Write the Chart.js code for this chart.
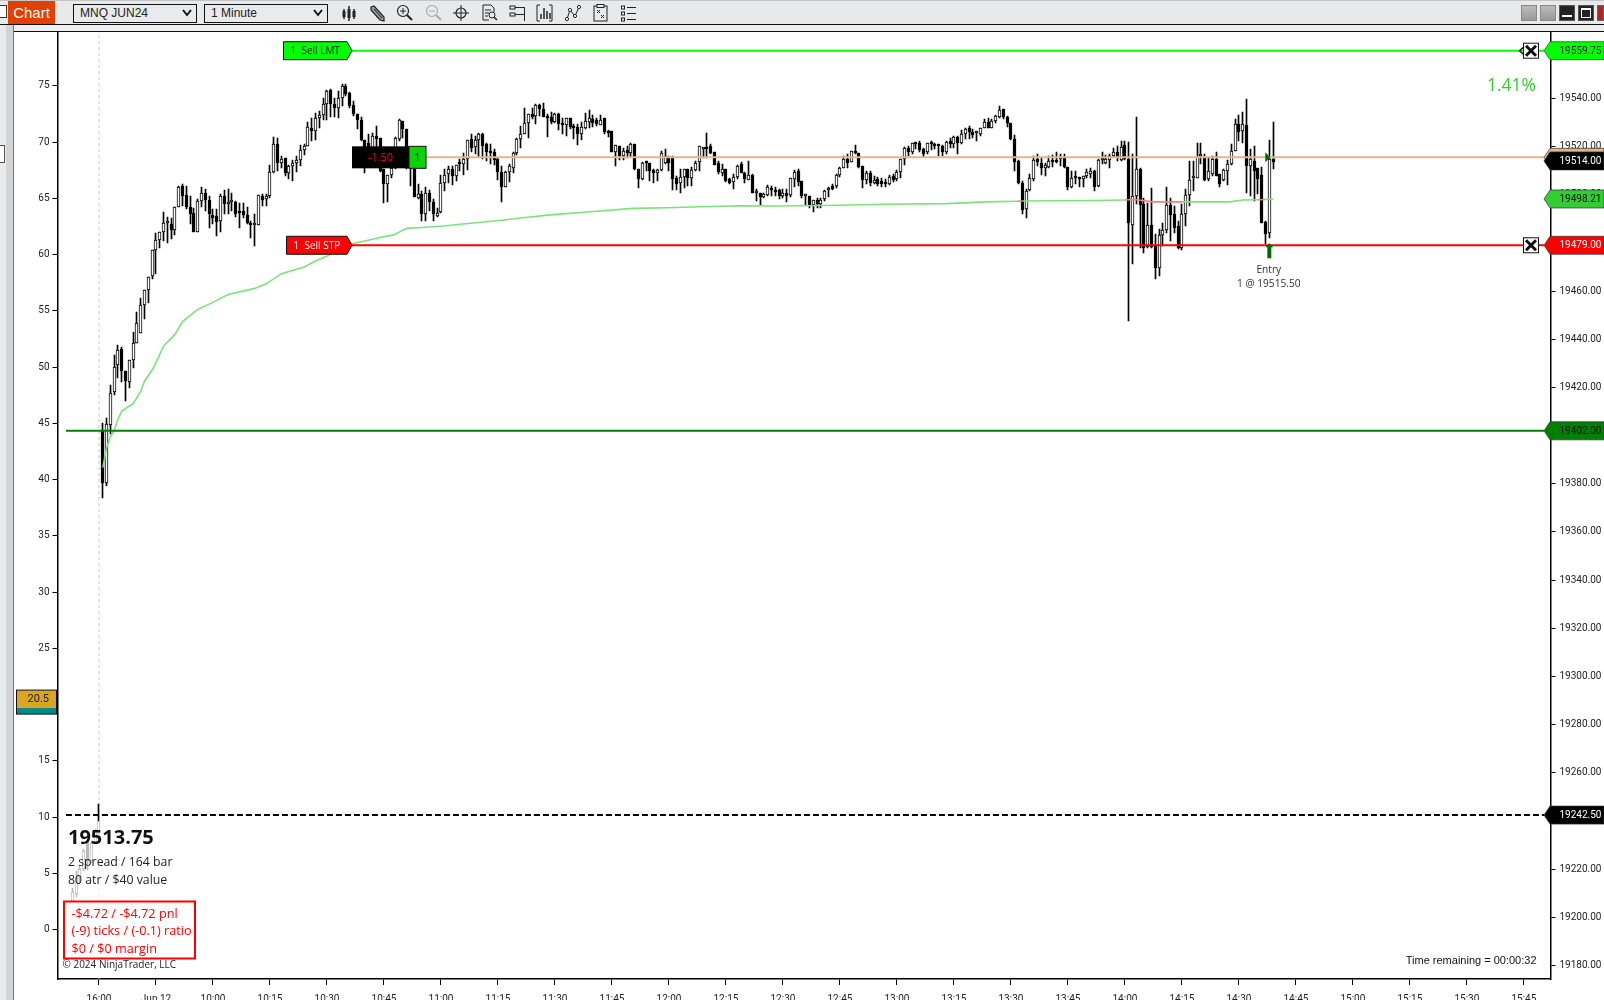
<!DOCTYPE html>
<html>
<head>
<meta charset="utf-8">
<title>MNQ JUN24</title>
<script src="https://cdn.jsdelivr.net/npm/chart.js@4/dist/chart.umd.min.js"></script>
<style>
  html, body { margin: 0; padding: 0; width: 1604px; height: 1000px; overflow: hidden; background: #fff; }
  canvas { position: absolute; left: 0; top: 0; }
  .box { position: absolute; box-sizing: border-box; }
  .drop { position: absolute; top: 4px; height: 19px; box-sizing: border-box; border: 1.5px solid #111; background: #e9eaeb;
          font: 12px "Liberation Sans", sans-serif; line-height: 16px; padding-left: 6px; color: #222; }
  .drop svg { position: absolute; right: 4px; top: 4px; }
  .ico { position: absolute; top: 4px; }
</style>
</head>
<body>
<canvas id="chart" width="1604" height="1000"></canvas>

<!-- venster rand en toolbar -->
<div class="box" style="left:0;top:0;width:1604px;height:25px;background:#e8e9ea;border-top:1px solid #c4c4c4;border-bottom:1px solid #111"></div>
<div class="box" style="left:0;top:25px;width:1604px;height:7px;background:#f0f0f0;border-bottom:1px solid #111"></div>
<div class="box" style="left:0;top:25px;width:6px;height:975px;background:#e9eaeb"></div>
<div class="box" style="left:6px;top:25px;width:8px;height:975px;background:#d3d3d3;border-right:1px solid #777"></div>
<div class="box" style="left:0;top:5px;width:7px;height:13px;background:#fff;border:1px solid #333;border-left:0"></div>
<div class="box" style="left:0;top:145px;width:5px;height:18px;background:#fff;border:1px solid #555;border-left:0"></div>
<div class="box" style="left:8px;top:1px;width:47px;height:23px;background:#e04000;color:#fff;font:15px 'Liberation Sans',sans-serif;line-height:23px;text-align:center">Chart</div>
<div class="drop" style="left:73px;width:124px">MNQ JUN24<svg width="10" height="8"><path d="M1 1 L5 6 L9 1" fill="none" stroke="#111" stroke-width="2"/></svg></div>
<div class="drop" style="left:204px;width:124px">1 Minute<svg width="10" height="8"><path d="M1 1 L5 6 L9 1" fill="none" stroke="#111" stroke-width="2"/></svg></div>

<svg class="ico" style="left:341px" width="16" height="18"><path d="M3 5V15M8 2V17M13 5V15" stroke="#222" stroke-width="1.5"/><rect x="1.5" y="7" width="3" height="6" fill="#222"/><rect x="6.5" y="5" width="3" height="9" fill="#222"/><rect x="11.5" y="7" width="3" height="6" fill="#222"/></svg>
<svg class="ico" style="left:369px" width="17" height="18"><path d="M2 3L5 2L15 13L15 17L11 16L2 6Z" fill="#999" stroke="#222" stroke-width="1.2"/><path d="M5 5L13 14" stroke="#222"/></svg>
<svg class="ico" style="left:396px" width="17" height="18"><circle cx="7" cy="7" r="5.5" fill="none" stroke="#222" stroke-width="1.2"/><path d="M4 7H10M7 4V10" stroke="#222"/><path d="M11 11L16 16" stroke="#222" stroke-width="2"/></svg>
<svg class="ico" style="left:425px" width="17" height="18"><circle cx="7" cy="7" r="5.5" fill="none" stroke="#aaa" stroke-width="1.2"/><path d="M4 7H10" stroke="#aaa"/><path d="M11 11L16 16" stroke="#aaa" stroke-width="2"/></svg>
<svg class="ico" style="left:453px" width="17" height="18"><circle cx="8" cy="9" r="5" fill="none" stroke="#222" stroke-width="1.2"/><path d="M8 1V17M0 9H16" stroke="#222"/></svg>
<svg class="ico" style="left:481px" width="17" height="18"><path d="M2 1H10L13 4V8M2 1V16H8" fill="none" stroke="#222"/><path d="M4 6H10M4 9H8M4 12H7" stroke="#222"/><circle cx="11" cy="11" r="3" fill="none" stroke="#222"/><path d="M13 13L16 16" stroke="#222" stroke-width="1.5"/></svg>
<svg class="ico" style="left:509px" width="17" height="18"><rect x="1" y="2" width="5" height="3" fill="none" stroke="#222"/><rect x="1" y="9" width="5" height="3" fill="none" stroke="#222"/><path d="M6 3.5H16M6 10.5H16M15.5 3V17" stroke="#222"/></svg>
<svg class="ico" style="left:536px" width="17" height="18"><path d="M4 1H1V17H4M13 1H16V17H13" fill="none" stroke="#222"/><path d="M5 10V15M8 4V15M11 7V15M14 9V15" stroke="#222" stroke-width="1.5"/></svg>
<svg class="ico" style="left:564px" width="17" height="18"><path d="M3 15L6 6L11 12L15 3" fill="none" stroke="#222"/><circle cx="3" cy="15" r="1.6" fill="#fff" stroke="#222"/><circle cx="6" cy="6" r="1.6" fill="#fff" stroke="#222"/><circle cx="11" cy="12" r="1.6" fill="#fff" stroke="#222"/><circle cx="15" cy="3" r="1.6" fill="#fff" stroke="#222"/></svg>
<svg class="ico" style="left:592px" width="17" height="18"><rect x="2" y="2" width="13" height="15" fill="none" stroke="#222"/><rect x="5" y="0.5" width="7" height="3" fill="#e8e9ea" stroke="#222"/><path d="M5 6L8 9M8 6L5 9M9 11L12 14M12 11L9 14" stroke="#222"/></svg>
<svg class="ico" style="left:620px" width="17" height="18"><rect x="1.5" y="2" width="3" height="3" fill="none" stroke="#222"/><rect x="1.5" y="8" width="3" height="3" fill="none" stroke="#222"/><rect x="1.5" y="14" width="3" height="3" fill="none" stroke="#222"/><path d="M7 3.5H16M7 9.5H16M7 15.5H16" stroke="#222" stroke-width="1.2"/></svg>

<div class="box" style="left:1521px;top:5px;width:16px;height:16px;background:linear-gradient(#bbb,#999);border:1px solid #888"></div>
<div class="box" style="left:1540px;top:5px;width:16px;height:16px;background:linear-gradient(#bbb,#999);border:1px solid #888"></div>
<div class="box" style="left:1559px;top:5px;width:16px;height:16px;background:#222;border:1px solid #555"><div class="box" style="left:2px;top:9px;width:10px;height:2px;background:#fff"></div></div>
<div class="box" style="left:1578px;top:5px;width:16px;height:16px;background:#222;border:1px solid #555"><div class="box" style="left:2px;top:2px;width:10px;height:10px;border:1px solid #fff;border-top-width:2px"></div></div>
<div class="box" style="left:1597px;top:5px;width:7px;height:16px;background:#a52a2a;border:1px solid #666"></div>

<script>
// Koersdata per minuut, eerste balk is 8 minuten voor de 16:00 balk
var firstBar = -8;

var opens = [
  19197.9, 19205.8, 19209.9, 19216.8, 19220, 19231.5, 19223.5, 19231, 19235.9,
  19402.3, 19380.5, 19404.3, 19418.2, 19429.2, 19435.9, 19426.8, 19422.4, 19431.5, 19438.3,
  19442.6, 19454.2, 19460.3, 19466.1, 19476.9, 19481.1, 19484.5, 19488.1, 19487.7, 19485.2,
  19494.8, 19503.5, 19499.8, 19495, 19492.3, 19484.7, 19497.4, 19500.9, 19497.7, 19491.5,
  19491.2, 19489.1, 19499.5, 19496, 19497.1, 19497, 19492.6, 19493.1, 19491.5, 19488.4,
  19487.4, 19487.4, 19499.4, 19498.1, 19499.4, 19509.4, 19521.2, 19513, 19515.1, 19509.2,
  19511.7, 19513, 19514.3, 19518.4, 19520.4, 19527.6, 19526.5, 19532, 19533, 19537.8,
  19543.3, 19537.8, 19535.9, 19540.3, 19545.1, 19542.4, 19537.2, 19533.4, 19530.9, 19522.6,
  19521.6, 19518.8, 19524.2, 19523.4, 19510.6, 19504.3, 19508, 19511.2, 19522.9, 19530.6,
  19527.1, 19512, 19510.5, 19498.7, 19500.4, 19492.1, 19500.8, 19497.1, 19491.1, 19492.9,
  19504.7, 19508.7, 19510.6, 19507.9, 19513.3, 19512.9, 19514.6, 19522.9, 19519.9, 19522.5,
  19525, 19520.9, 19517.8, 19517.6, 19514.6, 19509.4, 19503.3, 19509.4, 19511.2, 19517.4,
  19523.2, 19525.3, 19529.6, 19533.6, 19532.6, 19537.2, 19535.4, 19532.6, 19532.4, 19530.1,
  19533.6, 19529.4, 19528.8, 19531.7, 19528.5, 19528.1, 19525, 19527.5, 19530.3, 19531.2,
  19530.8, 19528.8, 19531.7, 19526.1, 19526.4, 19517.8, 19520.2, 19516, 19518.4, 19517.4,
  19520.9, 19510.5, 19506.6, 19513.5, 19513, 19510.2, 19508.8, 19510.1, 19513, 19515.3,
  19515.3, 19506.8, 19505, 19507.3, 19510.5, 19507, 19510.1, 19513.5, 19519, 19519.2,
  19520.2, 19517.7, 19513.3, 19509.1, 19510.5, 19506.4, 19505.4, 19507.3, 19512.6, 19509.1,
  19506.1, 19508.1, 19500.8, 19500.5, 19499, 19499.7, 19502.9, 19501.8, 19501.8, 19499.3,
  19500.7, 19499.9, 19506.4, 19509.8, 19505.7, 19499.6, 19499.3, 19495.7, 19497.9, 19496.3,
  19498, 19501.8, 19503.6, 19503.6, 19508, 19510.9, 19514.6, 19513.7, 19517.8, 19517.3,
  19511.9, 19506.2, 19509, 19505, 19506.4, 19505.7, 19504.8, 19504.3, 19507.7, 19506.6,
  19509.5, 19514.6, 19519.2, 19517.8, 19521.7, 19521.6, 19518.8, 19517.8, 19521.6, 19520.9,
  19520.5, 19520, 19517.6, 19522.3, 19520.9, 19523.9, 19521.6, 19525, 19527.5, 19526.1,
  19525.4, 19525.3, 19527.8, 19530, 19527.8, 19530.6, 19532.2, 19535.4, 19532.2, 19529.6,
  19522.9, 19514, 19504.8, 19493.9, 19501.8, 19506.4, 19514.6, 19513.3, 19511.2, 19511.5,
  19514.4, 19514.2, 19514.6, 19515.3, 19511.5, 19503.2, 19507.3, 19506.8, 19506.4, 19507.7,
  19508.7, 19509.8, 19503.6, 19514.2, 19513.3, 19514.2, 19516, 19517.7, 19514.2, 19520.6,
  19514.6, 19487.3, 19499.3, 19510.5, 19496, 19478.3, 19487.3, 19478.7, 19469.4, 19483.3,
  19485.2, 19495.6, 19491.8, 19487, 19478, 19491.8, 19499.7, 19507, 19507, 19516,
  19515.3, 19506.4, 19508.7, 19514.6, 19508.4, 19505.9, 19509.8, 19512.6, 19518.1, 19529.2,
  19526.4, 19528.9, 19511.9, 19514, 19510.9, 19508.1, 19488.6, 19484.2, 19514.9
];

var highs = [
  19206.2, 19212.4, 19219.3, 19221.4, 19228.3, 19232.4, 19231.8, 19236.6, 19247,
  19405.4, 19407.2, 19421, 19433.4, 19437.5, 19436.8, 19426.8, 19431.2, 19442.9, 19451.4,
  19457.2, 19460.3, 19465.8, 19476.9, 19484.2, 19484.5, 19493, 19490.8, 19490.5, 19494.8,
  19503.6, 19504.3, 19503.6, 19499.5, 19494.6, 19498.1, 19503, 19502.3, 19499.5, 19494,
  19494, 19500.2, 19501.8, 19502.3, 19500.9, 19497.4, 19496.7, 19496.7, 19494.9, 19489.1,
  19491.9, 19499.8, 19500.2, 19500.2, 19512.3, 19524, 19523.7, 19516.1, 19515.1, 19512.2,
  19514.4, 19516.1, 19520.5, 19521.2, 19530.2, 19532, 19534, 19534.8, 19540.3, 19543.3,
  19543.7, 19540.3, 19543, 19545.8, 19545.8, 19542.6, 19538.9, 19533.4, 19532.3, 19522.6,
  19525, 19525.8, 19528.5, 19523.7, 19510.6, 19508, 19514, 19524, 19531.3, 19530.6,
  19527.1, 19513, 19510.5, 19504.3, 19501.5, 19503.2, 19501.8, 19498, 19494.6, 19508.1,
  19510.5, 19511.9, 19511.9, 19512.3, 19514.6, 19517.1, 19522.5, 19525, 19524.3, 19525.7,
  19525.7, 19521.6, 19520.9, 19518.8, 19515.3, 19511.9, 19509.8, 19512.9, 19517.7, 19523.6,
  19528.5, 19535.8, 19533.6, 19535.8, 19537.5, 19537.5, 19537.9, 19533.3, 19534.4, 19534,
  19533.7, 19531.7, 19531.9, 19531.9, 19529.2, 19529.2, 19530.3, 19534, 19535, 19533,
  19531.9, 19533, 19531.7, 19526.7, 19526.4, 19520.5, 19520.2, 19519.5, 19520.2, 19521.6,
  19520.9, 19510.5, 19513.7, 19514, 19513.3, 19510.5, 19510.5, 19518.1, 19518.8, 19516,
  19516, 19507.7, 19510.5, 19510.8, 19510.8, 19511.5, 19514, 19520.2, 19519.5, 19525.4,
  19521.1, 19517.7, 19514, 19512.6, 19510.5, 19507, 19508.4, 19512.3, 19513.7, 19509.4,
  19514, 19508.4, 19502.2, 19500.8, 19500.8, 19504, 19503.6, 19503.2, 19502.2, 19502.2,
  19502.2, 19507, 19510.1, 19510.5, 19505.7, 19500.1, 19499.3, 19497.9, 19498.5, 19498.5,
  19501.8, 19503.2, 19504.3, 19508.4, 19511.5, 19516, 19516.7, 19518.1, 19520.6, 19517.3,
  19511.9, 19509.8, 19509.8, 19507.7, 19507.3, 19506.8, 19506.4, 19508.1, 19508.4, 19510.1,
  19514.6, 19519.8, 19520.2, 19521.6, 19522, 19522.3, 19519.5, 19521.6, 19522.3, 19521.6,
  19520.9, 19520.6, 19522.3, 19523.4, 19524.3, 19524.3, 19526.7, 19527.8, 19528.5, 19527.1,
  19526.4, 19527.8, 19531.2, 19531.9, 19531.2, 19533, 19536.8, 19535.7, 19532.6, 19529.9,
  19524.7, 19514.2, 19505.7, 19502.2, 19508.4, 19516, 19517, 19515.3, 19513.3, 19516,
  19516.4, 19517.7, 19516.7, 19516.7, 19511.5, 19509.8, 19509.8, 19507.3, 19507.7, 19510.5,
  19510.9, 19510.1, 19514.6, 19517.7, 19516.4, 19516.7, 19519.2, 19520.2, 19522.3, 19522.3,
  19521.8, 19516.7, 19532.2, 19511.2, 19498.7, 19496.7, 19502.6, 19483.5, 19485.6, 19488.4,
  19503.2, 19498.5, 19495.3, 19489.1, 19496, 19502.2, 19514, 19514, 19521.6, 19521.6,
  19516.7, 19515.3, 19516, 19517.8, 19508.4, 19510.5, 19514.2, 19520.9, 19531.2, 19533,
  19534.4, 19539.5, 19518.8, 19520.2, 19511.2, 19511.5, 19489.1, 19522.5, 19530.1
];

var lows = [
  19196.1, 19205.5, 19208.5, 19214.5, 19219.3, 19219.6, 19222.8, 19230.4, 19234.5,
  19374.2, 19379.1, 19400.5, 19416.9, 19424, 19422.4, 19414.4, 19419.6, 19428.2, 19438.3,
  19442.6, 19448.2, 19455.2, 19465.1, 19467.2, 19478, 19480.8, 19480.1, 19481.5, 19483.3,
  19494.8, 19495.3, 19494.2, 19487.7, 19484.3, 19484.3, 19494.9, 19493.3, 19486.3, 19487.7,
  19482.9, 19484.3, 19491.9, 19491.9, 19493.3, 19490.9, 19486.3, 19490.5, 19487.7, 19482.2,
  19478.7, 19487.4, 19495.3, 19495.3, 19498.8, 19508.8, 19509.9, 19511, 19507.8, 19506.7,
  19505.7, 19509.6, 19511.9, 19516.5, 19520.4, 19522.3, 19522.6, 19527.8, 19530.9, 19530.9,
  19532.3, 19532.3, 19531.7, 19536.8, 19541, 19535.9, 19532.7, 19527.1, 19522.3, 19509.2,
  19515, 19516.8, 19516.8, 19509.6, 19496.4, 19497.1, 19507.1, 19510.6, 19522.3, 19523.7,
  19510.8, 19503.6, 19499, 19498, 19489.1, 19489.1, 19493.2, 19489.1, 19490.7, 19492.5,
  19501.5, 19505, 19504, 19505.7, 19509.8, 19508.1, 19510.1, 19517.8, 19516.7, 19515.8,
  19514.6, 19514, 19512.9, 19512.3, 19505.9, 19497.1, 19503.3, 19505.4, 19509.1, 19516.4,
  19519.5, 19525.3, 19523.6, 19531.2, 19529.2, 19532.6, 19532.2, 19523.9, 19529.2, 19529.9,
  19526.7, 19525, 19524.2, 19527.1, 19522.9, 19520.6, 19522.5, 19527.1, 19527.5, 19528.1,
  19528.5, 19528.8, 19525.3, 19523.9, 19517.8, 19511.9, 19514.2, 19514.2, 19515.3, 19515.6,
  19510.1, 19502.9, 19505.9, 19509.8, 19505.7, 19504.7, 19505.7, 19509.8, 19512.6, 19509.8,
  19501.8, 19501.8, 19500.5, 19502.9, 19503.6, 19503.6, 19509.8, 19509.8, 19515.3, 19515.3,
  19516.7, 19512.3, 19508.7, 19507.7, 19505.4, 19504.3, 19502.5, 19506.4, 19509.1, 19505,
  19505.9, 19500.7, 19497.4, 19495.7, 19498.7, 19499.4, 19499.4, 19499.4, 19498, 19498.7,
  19497.1, 19499, 19503.3, 19503.6, 19498.5, 19495.7, 19494.3, 19492.9, 19494.6, 19494.3,
  19497.4, 19499, 19501.8, 19502.9, 19507.3, 19510.9, 19511.2, 19513.5, 19516.7, 19511.2,
  19502.9, 19504.3, 19503.6, 19504.6, 19503.6, 19503.3, 19503.3, 19504, 19505.4, 19505.7,
  19507, 19512.3, 19516, 19517, 19518.8, 19517.8, 19515.6, 19517, 19518.4, 19518.8,
  19516, 19516, 19516.7, 19519.2, 19519.2, 19517, 19521.1, 19522.9, 19522.9, 19523.6,
  19522.3, 19524.3, 19527.5, 19527.5, 19527.5, 19529.9, 19531.9, 19531.2, 19528.1, 19522.7,
  19509.8, 19504.3, 19491.8, 19490.4, 19501.5, 19505.7, 19511.9, 19508.1, 19507.7, 19511.2,
  19511.5, 19513.3, 19511.9, 19510.9, 19501.8, 19502.9, 19504.6, 19503.2, 19503.2, 19506.8,
  19506.8, 19501.5, 19503.2, 19512.6, 19512.6, 19511.2, 19515.6, 19514, 19514, 19514.2,
  19447.6, 19471.1, 19496, 19478, 19475.9, 19478, 19478, 19464.9, 19466.2, 19478.7,
  19484.2, 19480.8, 19484.2, 19477.3, 19476.9, 19487, 19495.3, 19501.5, 19506.8, 19512.6,
  19505.7, 19505.7, 19507.7, 19507.7, 19503.2, 19505.7, 19504, 19512.3, 19518.1, 19522.3,
  19521.6, 19500.8, 19499.4, 19497.4, 19500.1, 19488.4, 19479.4, 19482.2, 19510.5
];

var closes = [
  19205.5, 19210.7, 19216.3, 19220, 19227.6, 19223.5, 19231, 19235.9, 19240,
  19380.5, 19404.7, 19417.8, 19428.5, 19435.4, 19426.8, 19422.7, 19431.2, 19438.4, 19446.7,
  19454.2, 19460.3, 19465.8, 19476.9, 19481, 19484.5, 19488.1, 19488.1, 19485.4, 19494.8,
  19503.1, 19499.6, 19494.9, 19491.9, 19484.7, 19497.4, 19500.6, 19497.7, 19491.9, 19490.5,
  19488.8, 19499.5, 19496, 19497.1, 19497.1, 19491.9, 19492.3, 19491.5, 19488.4, 19487.3,
  19487.4, 19499.8, 19497.7, 19499.4, 19509.4, 19520.9, 19513.3, 19514.8, 19509.2, 19511.8,
  19513, 19514.4, 19518.4, 19520.1, 19528.1, 19526.5, 19531.7, 19533, 19537.8, 19543,
  19537.8, 19535.9, 19540, 19545.1, 19541.9, 19536.8, 19533.4, 19530.9, 19522.6, 19518.9,
  19518, 19524.2, 19523, 19509.9, 19504.3, 19508, 19511.2, 19523.4, 19530.9, 19527.1,
  19512, 19511, 19499, 19500.1, 19492.1, 19500.8, 19497.1, 19491.8, 19492.5, 19504.7,
  19508, 19510.5, 19507.9, 19512.3, 19512.6, 19514.6, 19522.5, 19519.5, 19522.5, 19525,
  19520.2, 19517.8, 19517.3, 19514.4, 19509.4, 19503.3, 19509.4, 19511.9, 19517.3, 19523.2,
  19525.3, 19529.6, 19533.6, 19532.2, 19537.2, 19535.4, 19532.2, 19531.9, 19530.1, 19533.6,
  19529.2, 19528.8, 19531.7, 19528.1, 19527.8, 19525, 19528.1, 19530.6, 19531.7, 19529.9,
  19529.2, 19530.8, 19526.1, 19525.7, 19517.8, 19520.5, 19516, 19518.1, 19517.4, 19521.1,
  19510.5, 19506.6, 19513.3, 19513, 19509.8, 19508.8, 19510.1, 19517.1, 19516, 19513,
  19506.6, 19504.6, 19507.3, 19510.5, 19507, 19510.2, 19513.3, 19520.2, 19519.2, 19518.8,
  19517.4, 19512.3, 19509.5, 19510.5, 19505.7, 19505, 19507.3, 19511.9, 19509.1, 19506.4,
  19508.1, 19500.8, 19500.8, 19499, 19500.1, 19503.2, 19501.8, 19501.2, 19499.4, 19500.5,
  19499.4, 19506.8, 19509.5, 19505.4, 19499.6, 19499.6, 19495.7, 19497.9, 19496, 19497.9,
  19501.5, 19502.8, 19502.5, 19508, 19510.9, 19514.6, 19513.3, 19518.1, 19517.3, 19511.5,
  19505.9, 19509.1, 19505, 19505.9, 19504.6, 19504.3, 19504.3, 19507.5, 19505.9, 19509.5,
  19514.6, 19519.4, 19517.8, 19521.3, 19521.1, 19518.4, 19517, 19521.6, 19521.1, 19520,
  19520, 19517.7, 19522, 19520.9, 19523.9, 19521.6, 19525.3, 19527.4, 19526.1, 19524.7,
  19525.4, 19527.5, 19530.1, 19527.8, 19530.6, 19532.5, 19535, 19532.2, 19529.9, 19522.9,
  19513.7, 19504.8, 19493.5, 19501.5, 19506.8, 19514.2, 19513.7, 19510.9, 19512.3, 19514,
  19513.7, 19513.7, 19514.6, 19511.5, 19503.2, 19506.8, 19506.8, 19506.4, 19507.6, 19509.4,
  19509.8, 19503.2, 19514.2, 19514.2, 19514.6, 19516, 19517.8, 19515.8, 19519.8, 19514.6,
  19488.4, 19499.3, 19510.5, 19495.7, 19477.7, 19487.3, 19478.3, 19469.7, 19483.1, 19485.2,
  19495.6, 19491.6, 19486, 19477.7, 19492.1, 19499.7, 19505.9, 19507, 19515.6, 19516,
  19505.9, 19509.8, 19514.6, 19507.7, 19504.6, 19510.1, 19512.6, 19518.1, 19529.2, 19526.1,
  19529.2, 19511.9, 19514.6, 19509.8, 19506.4, 19488.4, 19483.8, 19514.6, 19513.75
];

// Gemiddelde lijn, punten
var avgBars = [1, 2, 3, 4, 5, 6, 8, 9, 11, 12, 14, 15, 17, 20, 22, 26, 30, 34, 41, 44, 48, 54, 57, 60, 66, 70, 74, 77.5, 81, 85, 90.6, 95, 105.5, 111.6, 118.7, 131.8, 140.6, 149.4, 158.2, 168.7, 179, 194.6, 206.4, 223, 233.6, 241.5, 243, 261.8, 269.9, 272.6, 277.4, 285, 297.6, 301, 305, 307, 309];
var avgValues = [19386.7, 19395, 19399.4, 19402.2, 19406.8, 19410.2, 19412.3, 19413.3, 19418.5, 19422.7, 19427.2, 19430.3, 19437.2, 19442, 19447.3, 19452.4, 19455.3, 19458.6, 19461.1, 19463, 19467.2, 19470, 19472.5, 19474.5, 19479.4, 19480.8, 19482.2, 19483.3, 19486, 19486.4, 19487, 19487.7, 19489.3, 19490.4, 19491.6, 19493.2, 19494.3, 19494.6, 19495, 19495.4, 19495.3, 19495.6, 19496, 19496.3, 19497, 19497.3, 19497.4, 19497.6, 19497.8, 19498, 19497, 19497, 19497, 19497.8, 19497.9, 19498, 19498.21];
var redRanges = [[241.5, 243], [269.9, 285], [305, 307]];

// Rechter prijsvlaggen en niveaus
var limitPrice = 19559.75;
var stopPrice = 19479;
var entryPrice = 19515.5;
var lastPrice = 19514;
var avgPrice = 19498.21;
var greenLevel = 19402;
var blackLevel = 19242.5;

var timeLabels = ["16:00", "Jun 12", "10:00", "10:15", "10:30", "10:45", "11:00", "11:15", "11:30", "11:45", "12:00", "12:15", "12:30", "12:45", "13:00", "13:15", "13:30", "13:45", "14:00", "14:15", "14:30", "14:45", "15:00", "15:15", "15:30", "15:45"];

function level(price, fromBar, toBar) {
  return [{ x: fromBar, y: price }, { x: toBar, y: price }];
}

function inRed(x) {
  return redRanges.some((r) => x >= r[0] && x < r[1]);
}

var barData = opens.map((o, i) => firstBar + i);
var wickData = barData.map((x, i) => ({ x: x, y: [lows[i], highs[i]] }));
var bodyData = barData.map((x, i) => ({ x: x, y: [Math.min(opens[i], closes[i]), Math.max(opens[i], closes[i])] }));
var avgData = avgBars.map((x, i) => ({ x: x, y: avgValues[i] }));

function lineSet(data, color, order, dash, width) {
  return {
    type: "line",
    data: data,
    borderColor: color,
    borderWidth: width || 2,
    borderDash: dash || [],
    pointRadius: 0,
    order: order,
  };
}

// Balken scherp op hele pixels zetten, anders worden de wicks grijs
var snapBars = {
  id: "snapBars",
  afterDatasetsUpdate(chart) {
    chart.data.datasets.forEach((ds, d) => {
      if (ds.type === "line") return;
      chart.getDatasetMeta(d).data.forEach((el) => {
        el.x = Math.floor(el.x) + 0.5;
        el.y = Math.round(el.y);
        el.base = Math.round(el.base);
        if (ds.label === "body" && Math.abs(el.base - el.y) < 2) el.base = el.y + 2;
      });
    });
  },
};

function priceFlag(ctx, y, text, fill, color) {
  ctx.beginPath();
  ctx.moveTo(1544, y);
  ctx.lineTo(1550, y - 9);
  ctx.lineTo(1604, y - 9);
  ctx.lineTo(1604, y + 9);
  ctx.lineTo(1550, y + 9);
  ctx.closePath();
  ctx.fillStyle = fill;
  ctx.fill();
  ctx.strokeStyle = "#333";
  ctx.lineWidth = 0.7;
  ctx.stroke();
  ctx.fillStyle = color;
  ctx.font = "10px Roboto";
  ctx.textAlign = "left";
  ctx.textBaseline = "middle";
  ctx.fillText(text, 1559.5, y + 0.5);
}

function orderFlag(ctx, left, y, text, fill, color) {
  ctx.beginPath();
  ctx.moveTo(left, y - 9);
  ctx.lineTo(347, y - 9);
  ctx.lineTo(352, y);
  ctx.lineTo(347, y + 9);
  ctx.lineTo(left, y + 9);
  ctx.closePath();
  ctx.fillStyle = fill;
  ctx.fill();
  ctx.strokeStyle = "#111";
  ctx.lineWidth = 1;
  ctx.stroke();
  ctx.fillStyle = color;
  ctx.font = "10px 'Open Sans'";
  ctx.textAlign = "left";
  ctx.textBaseline = "middle";
  ctx.fillText(text, left + 7, y + 0.5);
}

function closeBox(ctx, y) {
  ctx.fillStyle = "#fff";
  ctx.fillRect(1523.5, y - 7.5, 15, 15);
  ctx.strokeStyle = "#111";
  ctx.lineWidth = 1;
  ctx.strokeRect(1523.5, y - 7.5, 15, 15);
  ctx.lineWidth = 3;
  ctx.beginPath();
  ctx.moveTo(1526, y - 5);
  ctx.lineTo(1536, y + 5);
  ctx.moveTo(1536, y - 5);
  ctx.lineTo(1526, y + 5);
  ctx.stroke();
}

function text(ctx, str, x, y, font, color, align) {
  ctx.font = font;
  ctx.fillStyle = color;
  ctx.textAlign = align || "left";
  ctx.textBaseline = "middle";
  ctx.fillText(str, x, y);
}

var overlays = {
  id: "overlays",
  afterDraw(chart) {
    var ctx = chart.ctx;
    var px = chart.scales.x;
    var py = chart.scales.y;
    var pl = chart.scales.left;
    ctx.save();

    // halfdoorzichtig vlak onder de tekst links onder
    ctx.fillStyle = "rgba(255,255,255,0.72)";
    ctx.fillRect(60, 821, 136, 157);

    text(ctx, "19513.75", 68, 838.5, "bold 20px 'Open Sans'", "#111");
    text(ctx, "2 spread / 164 bar", 68, 862.5, "12.3px 'Open Sans'", "#222");
    text(ctx, "80 atr / $40 value", 68, 880, "12.3px 'Open Sans'", "#222");

    ctx.fillStyle = "#fff";
    ctx.fillRect(64, 901.5, 131, 57);
    ctx.strokeStyle = "#ff0000";
    ctx.lineWidth = 2;
    ctx.strokeRect(64, 901.5, 131, 57);
    text(ctx, "-$4.72 / -$4.72 pnl", 71.5, 914, "12.7px 'Open Sans'", "#ff0000");
    text(ctx, "(-9) ticks / (-0.1) ratio", 71.5, 931.5, "12.7px 'Open Sans'", "#ff0000");
    text(ctx, "$0 / $0 margin", 71.5, 949.5, "12.7px 'Open Sans'", "#ff0000");
    text(ctx, "\u00a9 2024 NinjaTrader, LLC", 62.5, 965.5, "10px 'Open Sans'", "#222");

    text(ctx, "Time remaining = 00:00:32", 1536.5, 960.5, "11px 'Liberation Sans'", "#111", "right");
    text(ctx, "1.41%", 1536, 86.5, "17.5px 'Open Sans'", "#32cd32", "right");

    // goudkleurig label op de linker as
    var goldY = pl.getPixelForValue(20.5);
    ctx.fillStyle = "#008b8b";
    ctx.fillRect(16, goldY + 8, 40, 7);
    ctx.fillStyle = "#daa520";
    ctx.fillRect(16, goldY - 9, 40, 18);
    ctx.strokeStyle = "#111";
    ctx.lineWidth = 1;
    ctx.strokeRect(16.5, goldY - 9, 40, 24);
    text(ctx, "20.5", 49, goldY + 0.5, "11px Roboto", "#222", "right");

    // positie blok op de entry lijn
    var ey = py.getPixelForValue(entryPrice);
    ctx.fillStyle = "#000";
    ctx.fillRect(352, ey - 11, 57, 22);
    text(ctx, "-1.50", 380.5, ey + 0.5, "11px 'Open Sans'", "#ff0000", "center");
    ctx.fillStyle = "#08d408";
    ctx.fillRect(409, ey - 11, 17, 22);
    ctx.strokeStyle = "#111";
    ctx.strokeRect(409, ey - 11, 17, 22);
    text(ctx, "1", 417.5, ey + 0.5, "11px 'Open Sans'", "#111", "center");

    orderFlag(ctx, 283.5, py.getPixelForValue(limitPrice), "1  Sell LMT", "#00ff00", "#111");
    orderFlag(ctx, 286.5, py.getPixelForValue(stopPrice), "1  Sell STP", "#ff0000", "#fff");

    closeBox(ctx, py.getPixelForValue(limitPrice));
    closeBox(ctx, py.getPixelForValue(stopPrice));
    // pijltje links naast het bovenste kruis
    var ly = py.getPixelForValue(limitPrice);
    ctx.strokeStyle = "#111";
    ctx.lineWidth = 1.5;
    ctx.beginPath();
    ctx.moveTo(1524, ly - 4);
    ctx.lineTo(1519.5, ly);
    ctx.lineTo(1524, ly + 4);
    ctx.stroke();

    // entry pijl en tekst
    var ax = px.getPixelForValue(308);
    var ay = py.getPixelForValue(stopPrice) - 2;
    ctx.fillStyle = "#006b00";
    ctx.beginPath();
    ctx.moveTo(ax, ay);
    ctx.lineTo(ax + 4, ay + 4);
    ctx.lineTo(ax + 2, ay + 4);
    ctx.lineTo(ax + 2, ay + 15);
    ctx.lineTo(ax - 2, ay + 15);
    ctx.lineTo(ax - 2, ay + 4);
    ctx.lineTo(ax - 4, ay + 4);
    ctx.closePath();
    ctx.fill();
    ctx.beginPath();
    ctx.moveTo(ax - 4, ey - 5);
    ctx.lineTo(ax + 1, ey);
    ctx.lineTo(ax - 4, ey + 5);
    ctx.closePath();
    ctx.fill();
    text(ctx, "Entry", ax - 0.5, 270.5, "10.2px 'Open Sans'", "#333", "center");
    text(ctx, "1 @ 19515.50", ax - 0.5, 284.5, "10.2px 'Open Sans'", "#333", "center");

    // vlaggen rechts
    priceFlag(ctx, py.getPixelForValue(limitPrice), "19559.75", "#00ff00", "#111");
    priceFlag(ctx, ey, "", "#deb887", "#111");
    priceFlag(ctx, py.getPixelForValue(lastPrice), "19514.00", "#000", "#fff");
    priceFlag(ctx, py.getPixelForValue(avgPrice), "19498.21", "#32cd32", "#111");
    priceFlag(ctx, py.getPixelForValue(stopPrice), "19479.00", "#ff0000", "#fff");
    priceFlag(ctx, py.getPixelForValue(greenLevel), "19402.00", "#008000", "#111");
    priceFlag(ctx, py.getPixelForValue(blackLevel), "19242.50", "#000", "#fff");

    ctx.restore();
  },
};

var myChart = new Chart(document.getElementById("chart").getContext("2d"), {
  type: "bar",
  data: {
    datasets: [
      {
        label: "wick",
        data: wickData,
        backgroundColor: "#000",
        barThickness: 1,
        grouped: false,
        order: 6,
      },
      {
        label: "body",
        data: bodyData,
        backgroundColor: (c) => (closes[c.dataIndex] >= opens[c.dataIndex] ? "#fff" : "#000"),
        borderColor: "#000",
        borderWidth: 1,
        borderSkipped: false,
        barThickness: 3,
        grouped: false,
        minBarLength: 2,
        order: 5,
      },
      lineSet([{ x: 0, y: 19174 }, { x: 0, y: 19568 }], "#c4c4c4", 7, [3, 3], 1),
      {
        type: "line",
        data: avgData,
        borderWidth: 1.6,
        borderColor: "#7ce27c",
        pointRadius: 0,
        order: 4,
        segment: {
          borderColor: (c) => (inRed(c.p0.parsed.x) ? "#f08080" : "#7ce27c"),
        },
      },
      lineSet(level(limitPrice, 66.5, 380.3), "#00ff00", 3),
      lineSet(level(stopPrice, 66.5, 380.3), "#ff0000", 3),
      lineSet(level(entryPrice, 86, 380.3), "#deb887", 3),
      lineSet(level(greenLevel, -8.7, 380.3), "#008000", 3),
      lineSet(level(blackLevel, -8.7, 380.3), "#000", 3, [6, 3]),
    ],
  },
  plugins: [snapBars, overlays],
  options: {
    responsive: false,
    animation: false,
    devicePixelRatio: 1,
    layout: { autoPadding: false, padding: { top: 31.5 } },
    plugins: { legend: { display: false }, tooltip: { enabled: false } },
    scales: {
      x: {
        type: "linear",
        offset: false,
        min: -10.92,
        max: 382,
        afterFit: (s) => { s.height = 21; },
        border: { color: "#000", width: 1.5 },
        grid: { offset: false, drawOnChartArea: false, color: "#000", tickLength: 6 },
        ticks: {
          stepSize: 15,
          includeBounds: false,
          autoSkip: false,
          maxRotation: 0,
          padding: 8,
          color: "#222",
          font: { family: "Roboto", size: 10 },
          callback: (v) => timeLabels[v / 15],
        },
      },
      y: {
        type: "linear",
        position: "right",
        min: 19174.48,
        max: 19567.72,
        afterFit: (s) => { s.width = 53.5; },
        border: { color: "#000", width: 1.5 },
        grid: { drawOnChartArea: false, color: "#000", tickLength: 5 },
        ticks: {
          stepSize: 20,
          includeBounds: false,
          padding: 4,
          color: "#222",
          font: { family: "Roboto", size: 10 },
          callback: (v) => v.toFixed(2),
        },
      },
      left: {
        type: "linear",
        position: "left",
        min: -4.38,
        max: 79.84,
        afterFit: (s) => { s.width = 57.5; },
        border: { color: "#000", width: 1.5 },
        grid: { drawOnChartArea: false, color: "#000", tickLength: 5 },
        ticks: { stepSize: 5, includeBounds: false, padding: 3, color: "#222", font: { family: "Roboto", size: 10 } },
      },
    },
  },
});
</script>
</body>
</html>
